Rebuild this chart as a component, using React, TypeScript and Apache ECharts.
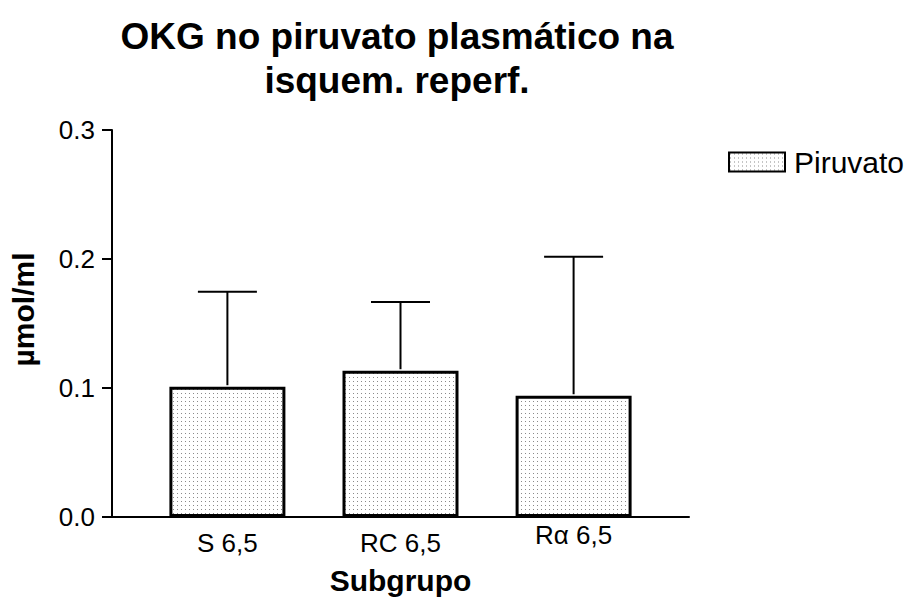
import React, { useEffect, useRef } from "react";
import * as echarts from "echarts";

const categories = ["S 6,5", "RC 6,5", "Rα 6,5"];
const positions = [2, 5, 8];
const means = [0.101, 0.1134, 0.094];
const upperErr = [0.1747, 0.1667, 0.2018];
const yTicks = [0, 0.1, 0.2, 0.3];

const FONT = "'Liberation Sans', Arial, Helvetica, sans-serif";

function makePattern(): HTMLCanvasElement {
  const c = document.createElement("canvas");
  c.width = 4;
  c.height = 4;
  const ctx = c.getContext("2d")!;
  ctx.fillStyle = "#ffffff";
  ctx.fillRect(0, 0, 4, 4);
  ctx.fillStyle = "#8a8a8a";
  ctx.fillRect(1, 1, 1, 1);
  return c;
}

export default function App() {
  const ref = useRef<HTMLDivElement>(null);
  useEffect(() => {
    if (!ref.current) return;
    const chart = echarts.init(ref.current, null, { renderer: "svg" });
    const pattern = { image: makePattern(), repeat: "repeat" };
    const barData = positions.map((p, i) => [p, means[i]]);
    const errData = positions.map((p, i) => [p, means[i], upperErr[i]]);
    const labelMap: Record<number, string> = {};
    positions.forEach((p, i) => {
      labelMap[p] = i === 2 ? "{u|" + categories[i] + "}" : "{n|" + categories[i] + "}";
    });
    chart.setOption({
      animation: false,
      backgroundColor: "#ffffff",
      title: {
        text: "OKG no piruvato plasmático na\nisquem. reperf.",
        left: 397,
        textAlign: "center",
        top: 14,
        padding: 0,
        textStyle: {
          fontFamily: FONT,
          fontSize: 37,
          fontWeight: "bold",
          lineHeight: 44,
          color: "#000",
        },
      },
      legend: {
        data: ["Piruvato"],
        left: 728,
        top: 147,
        padding: 0,
        icon: "rect",
        itemWidth: 56,
        itemHeight: 19,
        itemGap: 6,
        textStyle: { fontFamily: FONT, fontSize: 30, color: "#000", padding: [0, 0, 0, 4] },
      },
      grid: { left: 112, right: 219, top: 130, bottom: 84, containLabel: false },
      xAxis: {
        type: "value",
        min: 0,
        max: 10,
        interval: 1,
        name: "Subgrupo",
        nameLocation: "middle",
        nameGap: 48,
        nameTextStyle: { fontFamily: FONT, fontSize: 30, fontWeight: "bold", color: "#000" },
        axisLine: { show: true, lineStyle: { color: "#000", width: 2 } },
        axisTick: { show: false },
        splitLine: { show: false },
        axisLabel: {
          margin: 13,
          color: "#000",
          formatter: (v: number) => labelMap[v] || "",
          rich: {
            n: { fontFamily: FONT, fontSize: 26, lineHeight: 26, color: "#000" },
            u: { fontFamily: FONT, fontSize: 26, lineHeight: 10, color: "#000" },
          },
        },
      },
      yAxis: {
        type: "value",
        min: 0,
        max: 0.3,
        interval: 0.1,
        name: "µmol/ml",
        nameLocation: "middle",
        nameGap: 74,
        nameTextStyle: {
          fontFamily: FONT,
          fontSize: 30,
          fontWeight: "bold",
          color: "#000",
          padding: [0, 0, 0, 28],
        },
        axisLine: { show: true, lineStyle: { color: "#000", width: 2 } },
        axisTick: { show: true, length: 10, lineStyle: { color: "#000", width: 2 } },
        splitLine: { show: false },
        axisLabel: {
          margin: 17,
          fontFamily: FONT,
          fontSize: 26,
          color: "#000",
          formatter: (v: number) => {
            const t = yTicks.find((k) => Math.abs(k - v) < 1e-9);
            return t !== undefined ? t.toFixed(1) : v.toFixed(1);
          },
        },
      },
      series: [
        {
          name: "Piruvato",
          type: "bar",
          data: barData,
          barWidth: 116,
          itemStyle: { color: pattern, borderColor: "#000", borderWidth: 3 },
          z: 2,
        },
        {
          name: "err",
          type: "custom",
          data: errData,
          z: 3,
          renderItem: (params: any, api: any) => {
            const x = api.value(0);
            const lo = api.coord([x, api.value(1)]);
            const hi = api.coord([x, api.value(2)]);
            const hw = 29.5;
            return {
              type: "group",
              children: [
                {
                  type: "line",
                  shape: { x1: hi[0], y1: lo[1] - 1.5, x2: hi[0], y2: hi[1] },
                  style: { stroke: "#000", lineWidth: 2 },
                },
                {
                  type: "line",
                  shape: { x1: hi[0] - hw, y1: hi[1], x2: hi[0] + hw, y2: hi[1] },
                  style: { stroke: "#000", lineWidth: 2 },
                },
              ],
            };
          },
        },
      ],
    });
    return () => chart.dispose();
  }, []);
  return <div ref={ref} style={{ width: 908, height: 601, position: "absolute", left: 0, top: 0 }} />;
}
